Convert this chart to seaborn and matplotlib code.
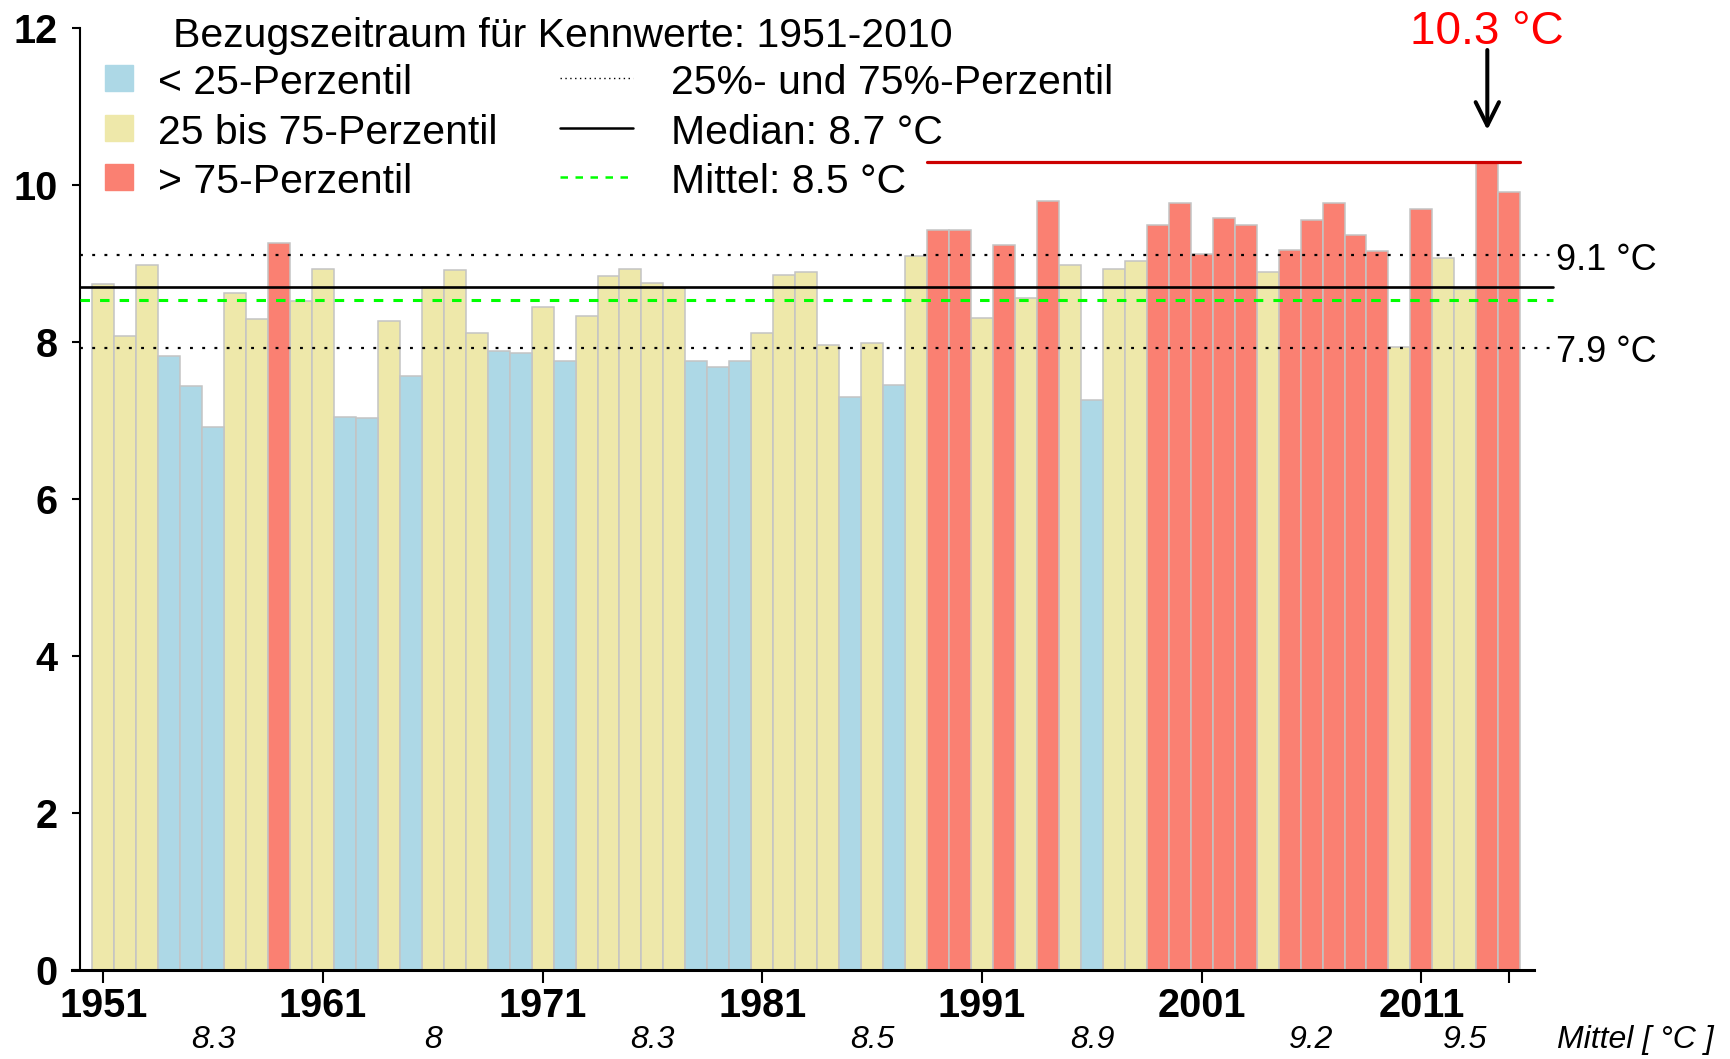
import numpy as np
import pandas as pd
import seaborn as sns
import matplotlib.pyplot as plt
from matplotlib.patches import Rectangle
from matplotlib.lines import Line2D

# yearly mean temperature (°C)
years = list(range(1951, 2016))
temps = [8.74, 8.08, 8.99, 7.82, 7.44, 6.92, 8.63, 8.30, 9.26, 8.53,   # 1951-1960
         8.93, 7.05, 7.03, 8.27, 7.57, 8.70, 8.92, 8.12, 7.89, 7.86,   # 1961-1970
         8.45, 7.76, 8.34, 8.85, 8.93, 8.75, 8.69, 7.76, 7.68, 7.76,   # 1971-1980
         8.12, 8.86, 8.89, 7.96, 7.30, 7.99, 7.46, 9.10, 9.43, 9.43,   # 1981-1990
         8.31, 9.24, 8.56, 9.80, 8.99, 7.27, 8.93, 9.04, 9.49, 9.78,   # 1991-2000
         9.13, 9.58, 9.49, 8.89, 9.18, 9.56, 9.78, 9.37, 9.17, 7.94,   # 2001-2010
         9.70, 9.07, 8.68, 10.30, 9.92]                                # 2011-2015

q25, q75 = 7.93, 9.11
median_val = 8.71
mean_val = 8.54
max_val = 10.30

decade_pos = [1956, 1966, 1976, 1986, 1996, 2006, 2013]
decade_means = ["8.3", "8", "8.3", "8.5", "8.9", "9.2", "9.5"]

cat_names = ["< 25-Perzentil", "25 bis 75-Perzentil", "> 75-Perzentil"]
colors = {"< 25-Perzentil": "#ADD8E6", "25 bis 75-Perzentil": "#EEE8AA", "> 75-Perzentil": "#FA8072"}

df = pd.DataFrame({"Jahr": years, "Temp": temps})
df["Klasse"] = np.where(df["Temp"] < q25, cat_names[0],
                        np.where(df["Temp"] > q75, cat_names[2], cat_names[1]))

sns.set_style("white")
plt.rcParams['font.family'] = ['Liberation Sans', 'DejaVu Sans']
plt.rcParams['text.color'] = 'black'
plt.rcParams['xtick.color'] = 'black'
plt.rcParams['ytick.color'] = 'black'

W, H = 1731, 1059
fig = plt.figure(figsize=(W / 100, H / 100), dpi=100)

# pixel -> data helpers
def idx(px):
    return (px - 103.2) / 21.97

def val(py):
    return (970 - py) / 78.46

DY = 5  # centre-alignment correction in px

ax_l, ax_r = 60, 1600
ax = fig.add_axes([ax_l / W, 1 - 970 / H, (ax_r - ax_l) / W, 970 / H])

sns.barplot(data=df, x="Jahr", y="Temp", hue="Klasse", palette=colors,
            dodge=False, width=1.0, saturation=1, edgecolor="#c4c4c4", linewidth=1.1,
            legend=False, ax=ax, zorder=2)

ax.set_xlim(idx(ax_l), idx(ax_r))
ax.set_ylim(0, val(0))

# reference lines
x0, x1 = idx(80), idx(1553)
ax.plot([x0, x1], [q75, q75], color="black", lw=1.6, ls=(0, (1.3, 4.2)), zorder=3)
ax.plot([x0, x1], [q25, q25], color="black", lw=1.6, ls=(0, (1.3, 4.2)), zorder=3)
ax.plot([x0, x1], [median_val, median_val], color="black", lw=1.9, zorder=3)
ax.plot([x0, x1], [mean_val, mean_val], color="#00FF00", lw=2.2, ls=(0, (3.1, 3.3)), zorder=3)
ax.plot([37.5, 64.5], [max_val, max_val], color="#CC0000", lw=2.3, zorder=3)

dv = DY / 78.46
ax.text(idx(1556), q75 - dv, "9.1 °C", fontsize=26, va="center", ha="left")
ax.text(idx(1556), q25 - dv, "7.9 °C", fontsize=26, va="center", ha="left")

# maximum annotation
ax.text(63, val(27 + DY), "10.3 °C", color="#FF0000", fontsize=33, ha="center", va="center")
ax.annotate("", xy=(63, val(130)), xytext=(63, val(50)),
            arrowprops=dict(arrowstyle="->", lw=2.9, color="black", mutation_scale=42,
                            shrinkA=0, shrinkB=0))

# decade means below the axis
for yr, m in zip(decade_pos, decade_means):
    ax.text(yr - years[0], val(1040), m, fontsize=23, style="italic",
            ha="center", va="center", clip_on=False)
ax.text(idx(1557), val(1040), "Mittel [ °C ]", fontsize=23, style="italic",
        ha="left", va="center", clip_on=False)

# axes styling (R-like)
for s in ["top", "right"]:
    ax.spines[s].set_visible(False)
ax.spines["left"].set_position(("data", idx(80)))
ax.spines["left"].set_bounds(0, 12)
ax.spines["left"].set_linewidth(1.5)
ax.spines["bottom"].set_bounds(idx(71.7), idx(1534))
ax.spines["bottom"].set_linewidth(2.2)
ax.spines["left"].set_color("black")
ax.spines["bottom"].set_color("black")

ax.set_yticks(range(0, 13, 2))
ax.set_yticklabels([str(v) for v in range(0, 13, 2)], fontsize=28.5, fontweight="bold",
                   va="center_baseline")
xt = [0, 10, 20, 30, 40, 50, 60, 64]
ax.set_xticks(xt)
ax.set_xticklabels([str(years[i]) for i in xt[:-1]] + [""], fontsize=28.5, fontweight="bold")
ax.tick_params(axis="y", direction="out", length=6, width=1.5, pad=10, left=True)
ax.tick_params(axis="x", direction="out", length=9, width=1.5, pad=3, bottom=True)
ax.set_xlabel("")
ax.set_ylabel("")

# legend drawn by hand in figure pixels
def fx(px):
    return px / W

def fy(py):
    return 1 - py / H

fig.text(fx(173), fy(31 + DY), "Bezugszeitraum für Kennwerte: 1951-2010", fontsize=29.5, va="center")
rows = [78, 128, 177]
for r, name in zip(rows, cat_names):
    fig.patches.append(Rectangle((fx(105), fy(r + 13)), 28 / W, 26 / H,
                                 transform=fig.transFigure, color=colors[name]))
    fig.text(fx(158), fy(r + DY), name, fontsize=29.5, va="center")

line_x = [fx(560), fx(633)]
fig.lines.append(Line2D(line_x, [fy(rows[0])] * 2, transform=fig.transFigure,
                        color="black", lw=1.0, ls=(0, (1, 2.5))))
fig.lines.append(Line2D(line_x, [fy(rows[1])] * 2, transform=fig.transFigure,
                        color="black", lw=1.8))
fig.lines.append(Line2D(line_x, [fy(rows[2])] * 2, transform=fig.transFigure,
                        color="#00FF00", lw=1.8, ls=(0, (3, 3))))
legend_lines = ["25%- und 75%-Perzentil", "Median: 8.7 °C", "Mittel: 8.5 °C"]
for r, t in zip(rows, legend_lines):
    fig.text(fx(671), fy(r + DY), t, fontsize=29.5, va="center")

fig.savefig("out.png", dpi=100)
